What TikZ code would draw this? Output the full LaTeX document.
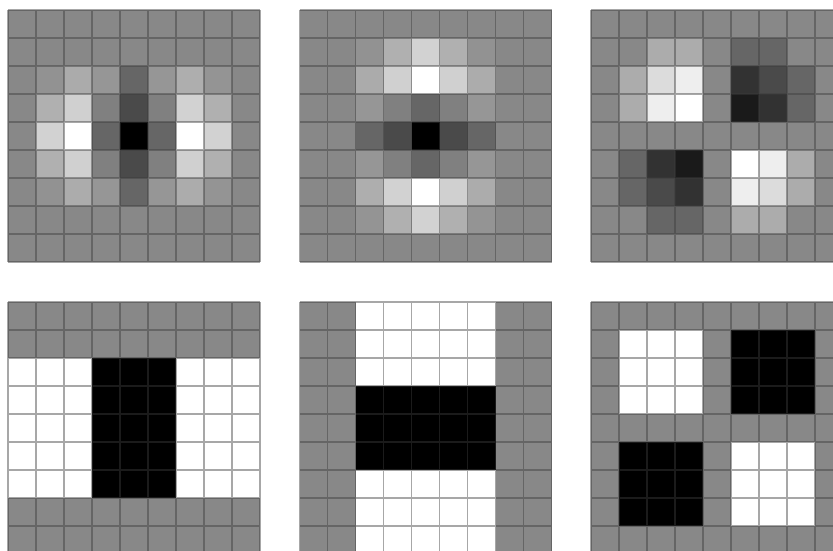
\documentclass[tikz,border=0pt]{standalone}
\tikzset{
  gridline/.style={draw={rgb,255:red,60;green,60;blue,60}, draw opacity=0.45, line width=1.5pt},
}
\newcommand\cellgrid[3]{%
  \foreach \rowvals [count=\r from 0] in {#3} {
    \foreach \v [count=\c from 0] in \rowvals {
      \fill[fill={rgb,255:red,\v;green,\v;blue,\v}] ({#1+28*\c},{#2+28*\r}) rectangle ++(28,28);
    }
  }
  \draw[gridline] \foreach \i in {0,...,9} { ({#1+28*\i},#2) -- ++(0,252) (#1,{#2+28*\i}) -- ++(252,0) };
}
\begin{document}
\begin{tikzpicture}[x=1pt,y=-1pt]
\useasboundingbox (0,0) rectangle (833,550);
\fill[white] (0,0) rectangle (833,550);
\clip (0,0) rectangle (833,550);
% top-left
\cellgrid{8}{10}{
 {136,136,136,136,136,136,136,136,136},
 {136,136,136,136,136,136,136,136,136},
 {136,146,171,150,102,150,174,148,136},
 {136,176,208,128,74,128,210,176,136},
 {136,210,255,102,0,102,255,210,136},
 {136,176,208,128,74,128,208,176,136},
 {136,146,172,150,102,150,172,148,136},
 {136,136,136,136,136,136,136,136,136},
 {136,136,136,136,136,136,136,136,136}}
% top-middle
\cellgrid{299.5}{10}{
 {136,136,136,136,136,136,136,136,136},
 {136,136,146,176,210,176,146,136,136},
 {136,136,171,208,255,208,172,136,136},
 {136,136,150,128,102,128,150,136,136},
 {136,136,102,74,0,74,102,136,136},
 {136,136,150,128,102,128,150,136,136},
 {136,136,174,210,255,208,172,136,136},
 {136,136,148,176,210,176,148,136,136},
 {136,136,136,136,136,136,136,136,136}}
% top-right
\cellgrid{591}{10}{
 {136,136,136,136,136,136,136,136,136},
 {136,136,172,172,136,102,102,136,136},
 {136,172,220,238,136,50,74,102,136},
 {136,172,238,255,136,26,50,102,136},
 {136,136,136,136,136,136,136,136,136},
 {136,102,50,26,136,255,238,172,136},
 {136,102,74,50,136,238,220,172,136},
 {136,136,102,102,136,172,172,136,136},
 {136,136,136,136,136,136,136,136,136}}
% bottom-left
\cellgrid{8}{302}{
 {136,136,136,136,136,136,136,136,136},
 {136,136,136,136,136,136,136,136,136},
 {255,255,255,0,0,0,255,255,255},
 {255,255,255,0,0,0,255,255,255},
 {255,255,255,0,0,0,255,255,255},
 {255,255,255,0,0,0,255,255,255},
 {255,255,255,0,0,0,255,255,255},
 {136,136,136,136,136,136,136,136,136},
 {136,136,136,136,136,136,136,136,136}}
% bottom-middle
\cellgrid{299.5}{302}{
 {136,136,255,255,255,255,255,136,136},
 {136,136,255,255,255,255,255,136,136},
 {136,136,255,255,255,255,255,136,136},
 {136,136,0,0,0,0,0,136,136},
 {136,136,0,0,0,0,0,136,136},
 {136,136,0,0,0,0,0,136,136},
 {136,136,255,255,255,255,255,136,136},
 {136,136,255,255,255,255,255,136,136},
 {136,136,255,255,255,255,255,136,136}}
% bottom-right
\cellgrid{591}{302}{
 {136,136,136,136,136,136,136,136,136},
 {136,255,255,255,136,0,0,0,136},
 {136,255,255,255,136,0,0,0,136},
 {136,255,255,255,136,0,0,0,136},
 {136,136,136,136,136,136,136,136,136},
 {136,0,0,0,136,255,255,255,136},
 {136,0,0,0,136,255,255,255,136},
 {136,0,0,0,136,255,255,255,136},
 {136,136,136,136,136,136,136,136,136}}
\end{tikzpicture}
\end{document}
